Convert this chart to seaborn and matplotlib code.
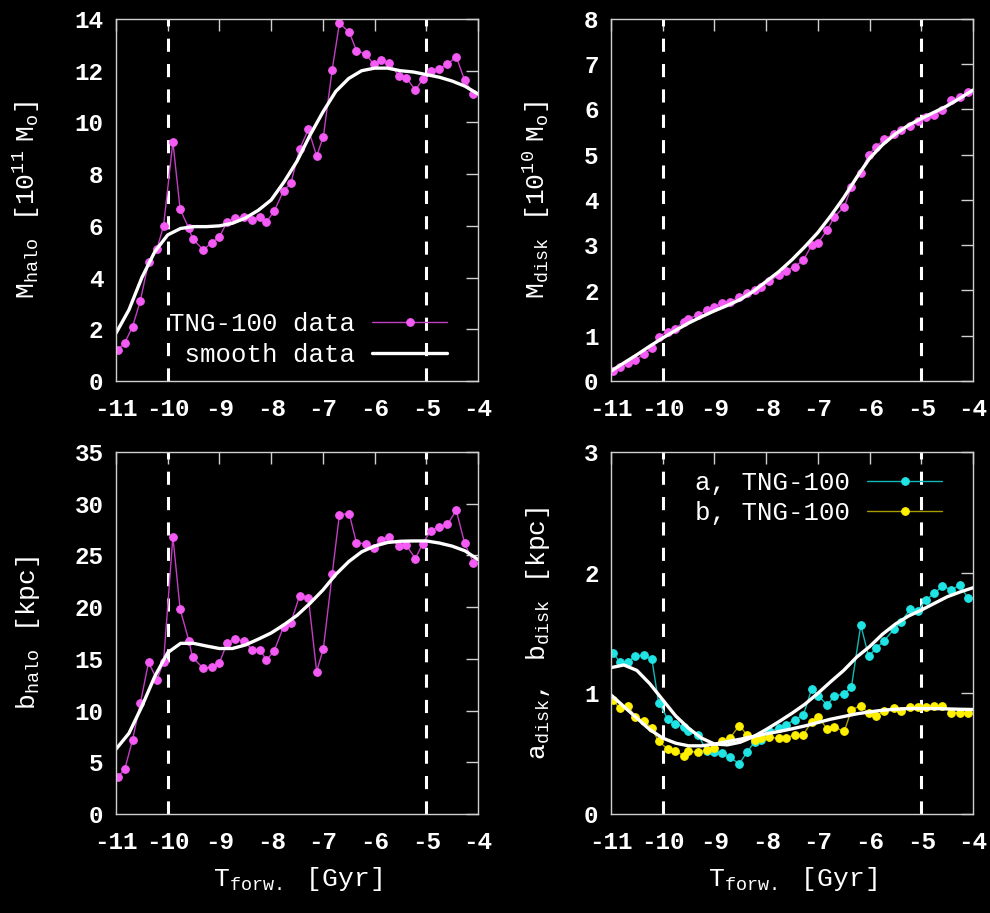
import numpy as np
import matplotlib
matplotlib.use('Agg')
import matplotlib.pyplot as plt
import seaborn as sns

# snapshot times [Gyr]
t = [-10.97, -10.83, -10.68, -10.53, -10.37, -10.21, -10.08, -9.90, -9.76, -9.59,
     -9.52, -9.31, -9.15, -9.00, -8.85, -8.70, -8.52, -8.37, -8.22, -8.09,
     -7.94, -7.76, -7.62, -7.45, -7.28, -7.12, -6.99, -6.82, -6.68, -6.49,
     -6.35, -6.17, -6.02, -5.87, -5.72, -5.53, -5.39, -5.21, -5.07, -4.91,
     -4.75, -4.59, -4.42, -4.26, -4.09]

m_halo = [1.20, 1.48, 2.10, 3.10, 4.60, 5.10, 6.00, 9.25, 6.64, 5.90,
          5.50, 5.07, 5.35, 5.58, 6.16, 6.29, 6.35, 6.23, 6.35, 6.16,
          6.57, 7.36, 7.64, 8.97, 9.73, 8.70, 9.45, 12.03, 13.83, 13.50,
          12.77, 12.65, 12.25, 12.41, 12.31, 11.80, 11.73, 11.25, 11.67, 12.00,
          12.07, 12.25, 12.54, 11.64, 11.10]

m_disk = [0.23, 0.30, 0.39, 0.46, 0.59, 0.72, 0.98, 1.09, 1.16, 1.31,
          1.37, 1.46, 1.57, 1.63, 1.72, 1.75, 1.86, 1.94, 2.01, 2.08,
          2.20, 2.34, 2.42, 2.53, 2.67, 3.00, 3.06, 3.34, 3.63, 3.85,
          4.29, 4.59, 5.00, 5.18, 5.34, 5.46, 5.55, 5.64, 5.75, 5.83,
          5.88, 5.99, 6.21, 6.28, 6.39]

b_halo = [3.54, 4.34, 7.17, 10.70, 14.67, 13.00, 14.70, 26.80, 19.80, 16.74,
          15.14, 14.07, 14.23, 14.62, 16.55, 16.88, 16.75, 15.90, 15.90, 14.88,
          15.80, 18.10, 18.50, 21.10, 20.90, 13.77, 16.00, 23.16, 28.95, 29.04,
          26.20, 26.15, 25.76, 26.54, 26.80, 25.90, 26.00, 24.70, 26.15, 27.40,
          27.76, 28.00, 29.37, 26.20, 24.30]

a_disk = [1.337, 1.263, 1.257, 1.310, 1.315, 1.285, 0.924, 0.786, 0.742, 0.725,
          0.684, 0.656, 0.518, 0.510, 0.505, 0.469, 0.416, 0.513, 0.600, 0.615,
          0.684, 0.711, 0.739, 0.780, 0.820, 1.034, 0.980, 0.904, 0.980, 0.993,
          1.056, 1.566, 1.310, 1.373, 1.436, 1.530, 1.594, 1.698, 1.680, 1.773,
          1.828, 1.891, 1.856, 1.897, 1.787]

b_disk = [0.946, 0.877, 0.896, 0.808, 0.772, 0.711, 0.601, 0.538, 0.524, 0.482,
          0.518, 0.513, 0.532, 0.546, 0.601, 0.629, 0.733, 0.656, 0.615, 0.629,
          0.634, 0.629, 0.629, 0.656, 0.656, 0.766, 0.802, 0.706, 0.720, 0.684,
          0.863, 0.899, 0.835, 0.813, 0.855, 0.877, 0.857, 0.885, 0.885, 0.885,
          0.899, 0.899, 0.841, 0.841, 0.841]

# smoothed curves, sampled every 0.25 Gyr
ts = [-11.0, -10.75, -10.5, -10.25, -10.0, -9.75, -9.5, -9.25, -9.0, -8.75,
      -8.5, -8.25, -8.0, -7.75, -7.5, -7.25, -7.0, -6.75, -6.5, -6.25,
      -6.0, -5.75, -5.5, -5.25, -5.0, -4.75, -4.5, -4.25, -4.0]

m_halo_s = [1.85, 2.75, 4.00, 5.00, 5.65, 5.90, 5.97, 5.97, 6.00, 6.10,
            6.30, 6.60, 7.00, 7.70, 8.50, 9.50, 10.40, 11.20, 11.70, 12.00,
            12.10, 12.10, 12.00, 11.95, 11.85, 11.75, 11.60, 11.40, 11.10]

m_disk_s = [0.22, 0.40, 0.58, 0.77, 0.95, 1.12, 1.28, 1.42, 1.55, 1.67,
            1.80, 1.98, 2.20, 2.42, 2.68, 2.97, 3.28, 3.65, 4.05, 4.50,
            4.92, 5.22, 5.46, 5.65, 5.80, 5.94, 6.08, 6.25, 6.43]

b_halo_s = [6.27, 7.80, 10.40, 13.30, 15.60, 16.50, 16.50, 16.24, 16.00, 16.00,
            16.34, 16.90, 17.50, 18.30, 19.20, 20.36, 21.65, 23.16, 24.40, 25.35,
            25.90, 26.25, 26.37, 26.40, 26.40, 26.20, 25.90, 25.44, 24.60]

a_disk_s = [1.213, 1.235, 1.190, 1.080, 0.946, 0.813, 0.711, 0.629, 0.580, 0.573,
            0.595, 0.640, 0.700, 0.766, 0.835, 0.910, 1.000, 1.097, 1.190, 1.300,
            1.387, 1.490, 1.574, 1.640, 1.690, 1.745, 1.800, 1.840, 1.875]

b_disk_s = [0.987, 0.890, 0.794, 0.700, 0.629, 0.587, 0.565, 0.565, 0.579, 0.600,
            0.620, 0.642, 0.665, 0.684, 0.706, 0.730, 0.758, 0.786, 0.808, 0.830,
            0.846, 0.860, 0.868, 0.874, 0.874, 0.874, 0.871, 0.868, 0.866]

x_ticks = [-11, -10, -9, -8, -7, -6, -5, -4]
t_marks = [-10, -5]

sns.set_theme(style='dark')
plt.rcParams['font.family'] = ['Liberation Mono', 'DejaVu Sans Mono']
plt.rcParams['mathtext.default'] = 'regular'
plt.rcParams['figure.facecolor'] = 'black'
plt.rcParams['axes.facecolor'] = 'black'

fig = plt.figure(figsize=(9.9, 9.13), dpi=100)
W, H = 990, 913
def box(x0, y0, x1, y1):
    return [x0 / W, 1 - y1 / H, (x1 - x0) / W, (y1 - y0) / H]

ax1 = fig.add_axes(box(116, 19, 478, 381))
ax2 = fig.add_axes(box(611, 19, 973, 381))
ax3 = fig.add_axes(box(116, 452, 478, 814))
ax4 = fig.add_axes(box(611, 452, 973, 814))

MAG_L, MAG_P = '#c23ec2', '#f45af4'
CY_L, CY_P = '#10b8b8', '#20e4e4'
YE_L, YE_P = '#a89c00', '#fff000'


def data_line(ax, y, lc, pc, label=None):
    sns.lineplot(x=t, y=y, ax=ax, color=lc, lw=1.0, marker='o', ms=5.5,
                 mfc=pc, mec=pc, label=label, legend=False)


def smooth_line(ax, y, label=None):
    sns.lineplot(x=ts, y=y, ax=ax, color='white', lw=2.4, label=label, legend=False)


data_line(ax1, m_halo, MAG_L, MAG_P, 'TNG-100 data')
smooth_line(ax1, m_halo_s, ' smooth data')
data_line(ax2, m_disk, MAG_L, MAG_P)
smooth_line(ax2, m_disk_s)
data_line(ax3, b_halo, MAG_L, MAG_P)
smooth_line(ax3, b_halo_s)
data_line(ax4, a_disk, CY_L, CY_P, 'a, TNG-100')
data_line(ax4, b_disk, YE_L, YE_P, 'b, TNG-100')
smooth_line(ax4, a_disk_s)
smooth_line(ax4, b_disk_s)

ylims = [(0, 14, 2), (0, 8, 1), (0, 35, 5), (0, 3, 1)]
ylabels = [r'$\mathregular{M_{halo}\ \ [10^{11}\ M_o]}$',
           r'$\mathregular{M_{disk}\ \ [10^{10}\ M_o]}$',
           r'$\mathregular{b_{halo}\ \ [kpc]}$',
           r'$\mathregular{a_{disk},\ \ b_{disk}\ \ [kpc]}$']
ylab_x = [-0.204, -0.163, -0.204, -0.163]

for i, ax in enumerate([ax1, ax2, ax3, ax4]):
    lo, hi, step = ylims[i]
    for xm in t_marks:
        ax.axvline(xm, color='white', lw=2.2, ls=(0, (4.3, 4.0)), zorder=1)
    ax.set_xlim(-11, -4)
    ax.set_ylim(lo, hi)
    ax.set_xticks(x_ticks)
    ax.set_yticks(np.arange(lo, hi + step / 2, step))
    ax.set_xticklabels([str(v) for v in x_ticks])
    ax.tick_params(direction='in', length=8.5, width=1, color='#d0d0d0',
                   top=True, right=True, labelcolor='white', labelsize=17.5)
    ax.tick_params(axis='x', pad=12)
    ax.tick_params(axis='y', pad=9)
    for lab in ax.get_xticklabels() + ax.get_yticklabels():
        lab.set_fontweight('bold')
    for s in ax.spines.values():
        s.set_color('#d0d0d0')
        s.set_linewidth(1.0)
    ax.grid(False)
    ax.set_ylabel(ylabels[i], color='white', fontsize=19)
    ax.yaxis.set_label_coords(ylab_x[i], 0.5)

for ax in [ax3, ax4]:
    ax.set_xlabel(r'$\mathregular{T_{forw.}\ \ [Gyr]}$', color='white', fontsize=19)
    ax.xaxis.set_label_coords(0.5, -0.14)
for ax in [ax1, ax2]:
    ax.set_xlabel('')

leg_kw = dict(frameon=False, markerfirst=False, fontsize=18.5, labelcolor='white',
              handlelength=2.9, handletextpad=0.66, labelspacing=0.25,
              borderpad=0, borderaxespad=0)
ax1.legend(loc='lower right', bbox_to_anchor=(0.914, 0.04), **leg_kw)
ax4.legend(loc='upper right', bbox_to_anchor=(0.914, 0.948), **leg_kw)

fig.savefig('out.png', dpi=100, facecolor='black')
